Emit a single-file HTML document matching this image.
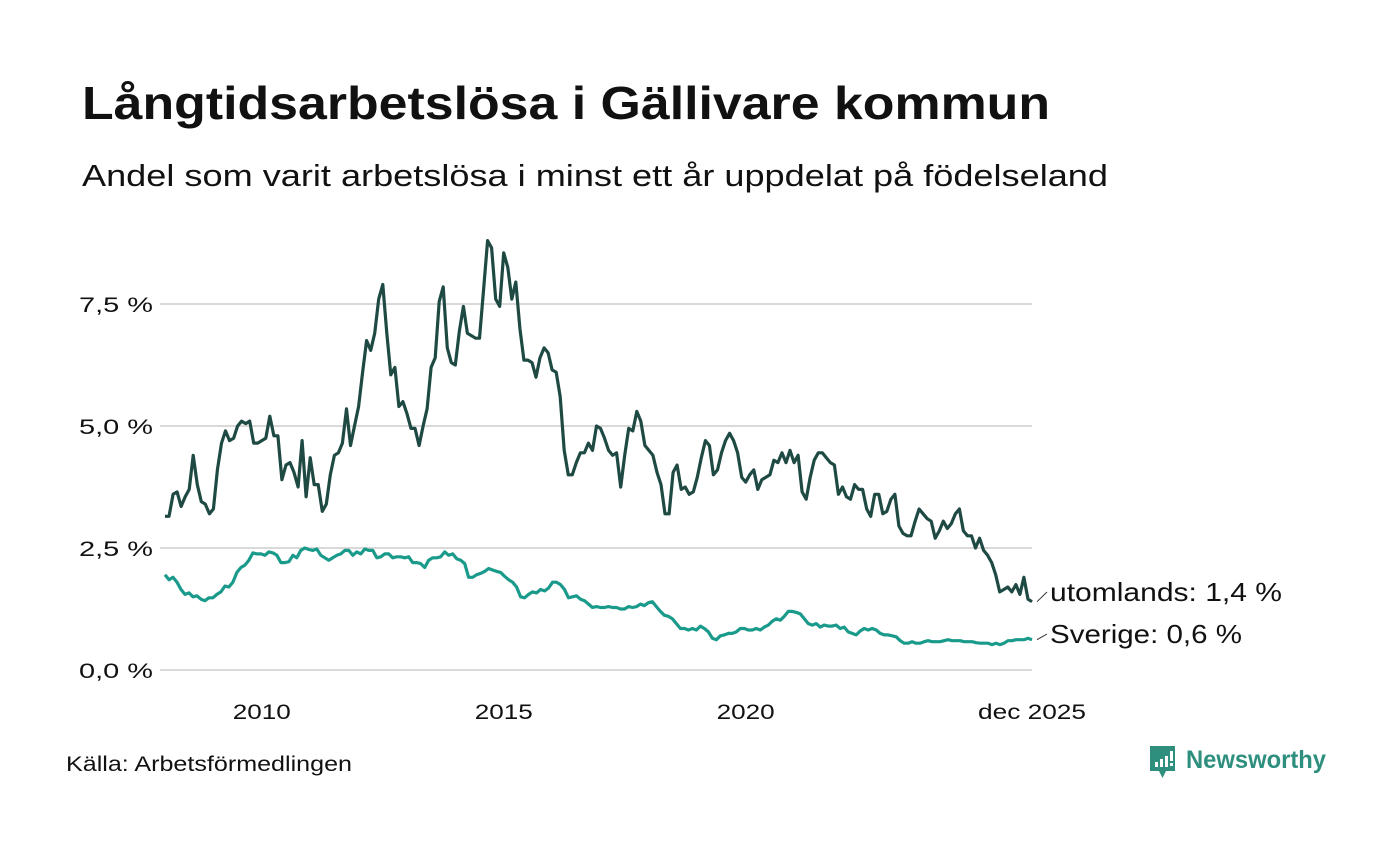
<!DOCTYPE html>
<html><head><meta charset="utf-8"><style>
body{margin:0;background:#fff;width:1400px;height:840px;overflow:hidden;font-family:"Liberation Sans",sans-serif;}
</style></head><body>
<svg width="1400" height="840" xmlns="http://www.w3.org/2000/svg">
<text x="82" y="119" font-size="46" font-weight="bold" fill="#111" textLength="968" lengthAdjust="spacingAndGlyphs">Långtidsarbetslösa i Gällivare kommun</text>
<text x="82" y="186" font-size="31" fill="#111" textLength="1026" lengthAdjust="spacingAndGlyphs">Andel som varit arbetslösa i minst ett år uppdelat på födelseland</text>
<g id="grid"></g><g id="xt"></g><g id="lines"></g>
<text x="66" y="771" font-size="21" fill="#111" textLength="286" lengthAdjust="spacingAndGlyphs">Källa: Arbetsförmedlingen</text>
<g>
<path d="M1150 746 h25 v25 h-9 l-3.5 7 l-3.5 -7 h-9 z" fill="#2e8f7f"/>
<rect x="1155" y="762" width="3" height="5" fill="#fff"/><rect x="1160" y="759" width="3" height="8" fill="#fff"/><rect x="1165" y="756" width="3" height="11" fill="#fff"/><rect x="1170" y="751" width="3" height="10" fill="#fff"/><rect x="1170" y="763" width="3" height="3" fill="#fff"/>
<text x="1186" y="768" font-size="25" font-weight="bold" fill="#2e8f7f" textLength="140" lengthAdjust="spacingAndGlyphs">Newsworthy</text>
</g>
</svg>
<script>
const utomlands=[3.15,3.15,3.6,3.65,3.35,3.55,3.7,4.4,3.8,3.45,3.4,3.2,3.3,4.1,4.65,4.9,4.7,4.75,5.0,5.1,5.05,5.1,4.65,4.65,4.7,4.75,5.2,4.8,4.8,3.9,4.2,4.25,4.05,3.75,4.7,3.55,4.35,3.8,3.8,3.25,3.4,4.0,4.4,4.45,4.65,5.35,4.6,5.0,5.4,6.1,6.75,6.55,6.9,7.6,7.9,6.9,6.05,6.2,5.4,5.5,5.25,4.95,4.95,4.6,5.0,5.35,6.2,6.4,7.55,7.85,6.6,6.3,6.25,6.95,7.45,6.9,6.85,6.8,6.8,7.8,8.8,8.65,7.6,7.45,8.55,8.25,7.6,7.95,7.0,6.35,6.35,6.3,6.0,6.4,6.6,6.5,6.15,6.1,5.6,4.5,4.0,4.0,4.25,4.45,4.45,4.65,4.5,5.0,4.95,4.75,4.5,4.4,4.45,3.75,4.4,4.95,4.9,5.3,5.1,4.6,4.5,4.4,4.05,3.8,3.2,3.2,4.05,4.2,3.7,3.75,3.6,3.65,3.95,4.35,4.7,4.6,4.0,4.1,4.45,4.7,4.85,4.7,4.45,3.95,3.85,4.0,4.1,3.7,3.9,3.95,4.0,4.3,4.25,4.45,4.25,4.5,4.25,4.4,3.65,3.5,3.95,4.3,4.45,4.45,4.35,4.25,4.2,3.6,3.75,3.55,3.5,3.8,3.7,3.7,3.3,3.15,3.6,3.6,3.2,3.25,3.5,3.6,2.95,2.8,2.75,2.75,3.05,3.3,3.2,3.1,3.05,2.7,2.85,3.05,2.9,3.0,3.2,3.3,2.85,2.75,2.75,2.5,2.7,2.45,2.35,2.2,1.95,1.6,1.65,1.7,1.6,1.75,1.55,1.9,1.45,1.4];
const sverige=[1.95,1.85,1.9,1.8,1.65,1.55,1.58,1.5,1.52,1.45,1.42,1.48,1.48,1.55,1.6,1.72,1.7,1.8,2.0,2.1,2.15,2.25,2.4,2.38,2.38,2.35,2.42,2.4,2.35,2.2,2.2,2.22,2.35,2.3,2.45,2.5,2.47,2.45,2.48,2.35,2.3,2.25,2.3,2.35,2.38,2.45,2.45,2.35,2.42,2.38,2.48,2.45,2.45,2.3,2.32,2.38,2.38,2.3,2.32,2.32,2.3,2.32,2.2,2.2,2.18,2.1,2.25,2.3,2.3,2.32,2.42,2.35,2.38,2.28,2.25,2.18,1.9,1.9,1.95,1.98,2.02,2.08,2.05,2.02,2.0,1.92,1.85,1.8,1.7,1.5,1.48,1.55,1.6,1.58,1.65,1.62,1.68,1.8,1.8,1.75,1.65,1.48,1.5,1.52,1.45,1.42,1.35,1.28,1.3,1.28,1.28,1.3,1.28,1.28,1.25,1.25,1.3,1.28,1.3,1.35,1.32,1.38,1.4,1.3,1.2,1.12,1.1,1.05,0.95,0.85,0.85,0.82,0.85,0.82,0.9,0.85,0.78,0.65,0.62,0.7,0.72,0.75,0.75,0.78,0.85,0.85,0.82,0.82,0.85,0.82,0.88,0.92,1.0,1.05,1.02,1.1,1.2,1.2,1.18,1.15,1.05,0.95,0.92,0.95,0.88,0.92,0.9,0.9,0.92,0.85,0.88,0.78,0.75,0.72,0.8,0.85,0.82,0.85,0.82,0.75,0.72,0.72,0.7,0.68,0.6,0.55,0.55,0.58,0.55,0.55,0.58,0.6,0.58,0.58,0.58,0.6,0.62,0.6,0.6,0.6,0.58,0.58,0.58,0.56,0.55,0.55,0.55,0.52,0.55,0.52,0.55,0.6,0.6,0.62,0.62,0.62,0.65,0.62];
const yTicks=[0,2.5,5,7.5];
const yTickLabels=["0,0 %","2,5 %","5,0 %","7,5 %"];
const xTickYears=[2010,2015,2020];
const xTickLabels=["2010","2015","2020"];
const seriesLabels=["utomlands: 1,4 %","Sverige: 0,6 %"];
const NS="http://www.w3.org/2000/svg";
const X0=165,X1=1032;
function yS(v){return 670-v*48.8;}
function xS(i,n){return X0+i*(X1-X0)/(n-1);}
function xYear(y){return X0+(y-2008)*12*(X1-X0)/215;}
function mk(tag,attrs,parent){const e=document.createElementNS(NS,tag);for(const k in attrs)e.setAttribute(k,attrs[k]);parent.appendChild(e);return e;}
const grid=document.getElementById('grid');
yTicks.forEach((t,i)=>{
  const l=mk('line',{x1:160,x2:1032,y1:yS(t),y2:yS(t),stroke:'#d9d9d9','stroke-width':2},grid);
  
  
  const tx=mk('text',{x:153,y:yS(t)+8,'font-size':21,'text-anchor':'end',fill:'#111',textLength:74,lengthAdjust:'spacingAndGlyphs'},grid);
  tx.textContent=yTickLabels[i];
  
  
});
const xt=document.getElementById('xt');
xTickYears.forEach((y,i)=>{
  const tx=mk('text',{x:xYear(y),y:719,'font-size':21,'text-anchor':'middle',fill:'#111',textLength:58,lengthAdjust:'spacingAndGlyphs'},xt);
  tx.textContent=xTickLabels[i];
  
  
});
const last=mk('text',{x:1032,y:719,'font-size':21,'text-anchor':'middle',fill:'#111',textLength:108,lengthAdjust:'spacingAndGlyphs'},xt);
last.textContent="dec 2025";


const lines=document.getElementById('lines');
[[sverige,'#1a9a8a','sverige-line'],[utomlands,'#1f4a44','utomlands-line']].forEach(([arr,col,name])=>{
  const d=arr.map((v,i)=>(i?'L':'M')+xS(i,arr.length).toFixed(1)+' '+yS(v).toFixed(1)).join(' ');
  const p=mk('path',{d:d,fill:'none',stroke:col,'stroke-width':3.2,'stroke-linejoin':'round'},lines);
  
  
});
[[utomlands,601,232],[sverige,643,192]].forEach(([arr,ly,w],k)=>{
  const yv=yS(arr[arr.length-1]);
  mk('line',{x1:1037,y1:yv,x2:1047,y2:ly-9,stroke:'#333','stroke-width':1},lines);
  const t=mk('text',{x:1050,y:ly,'font-size':26,fill:'#111',textLength:w,lengthAdjust:'spacingAndGlyphs'},lines);
  t.textContent=seriesLabels[k];
  
  
});
</script>
</body></html>
